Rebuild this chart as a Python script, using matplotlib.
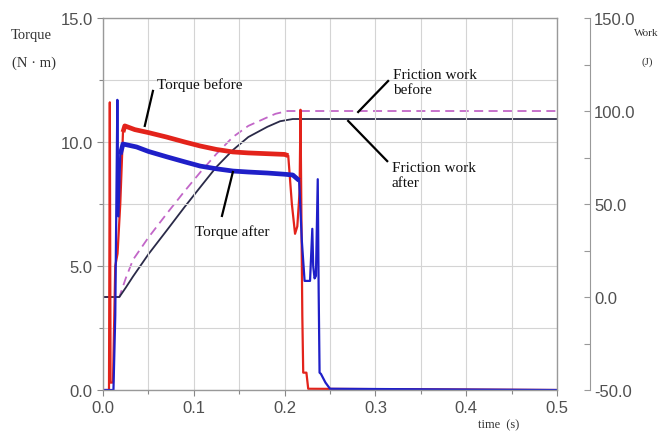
import matplotlib; matplotlib.use("Agg")
import matplotlib.pyplot as plt
import numpy as np
from matplotlib.ticker import MultipleLocator, FormatStrFormatter

RED = "#e3231b"; BLUE = "#1f1fc8"; PINK = "#c266c8"; DARK = "#2a2a48"; GRID = "#d4d4d4"; TXT = "#505050"
SERIF = ["Liberation Serif", "DejaVu Serif"]
plt.rcParams.update({"font.family": ["Liberation Sans", "DejaVu Sans"]})

# torque traces (N*m)
t_before = [0, 0.0066, 0.0075, 0.0083, 0.011, 0.0135, 0.016, 0.019, 0.022, 0.024, 0.035, 0.05, 0.07,
            0.09, 0.107, 0.125, 0.143, 0.16, 0.18, 0.2, 0.204, 0.208, 0.2115, 0.214, 0.2165, 0.2175,
            0.2185, 0.2195, 0.2205, 0.224, 0.226, 0.5]
torque_before = [0, 0, 11.6, 0.3, 0.3, 5.0, 5.5, 7.5, 10.4, 10.65, 10.5, 10.38, 10.2,
                 10.0, 9.84, 9.7, 9.6, 9.56, 9.53, 9.5, 9.45, 7.5, 6.3, 6.6, 8.0, 11.3,
                 7.0, 3.0, 0.7, 0.7, 0.05, 0.0]
t_after = [0, 0.0115, 0.0135, 0.0158, 0.017, 0.019, 0.022, 0.037, 0.05, 0.0705, 0.09, 0.107, 0.125,
           0.143, 0.16, 0.181, 0.2, 0.209, 0.216, 0.219, 0.222, 0.228, 0.2305, 0.2315, 0.233,
           0.2345, 0.2365, 0.2375, 0.2385, 0.24, 0.245, 0.25, 0.5]
torque_after = [0, 0, 3.0, 11.7, 7.0, 9.5, 9.92, 9.8, 9.62, 9.4, 9.2, 9.03, 8.92,
                8.83, 8.79, 8.75, 8.7, 8.67, 8.45, 6.0, 4.4, 4.4, 6.5, 5.0, 4.5,
                4.6, 8.5, 4.0, 0.7, 0.65, 0.3, 0.05, 0.0]

# friction work (J)
t_work_before = [0, 0.018, 0.025, 0.033, 0.05, 0.0705, 0.09, 0.107, 0.125, 0.143, 0.16, 0.181,
                 0.19, 0.203, 0.5]
work_before = [0, 0, 10, 20, 32, 45, 57, 67, 77, 86, 92, 96.6, 98.5, 100, 100]
t_work_after = [0, 0.018, 0.025, 0.033, 0.05, 0.0705, 0.09, 0.107, 0.125, 0.143, 0.16, 0.181,
                0.195, 0.209, 0.5]
work_after = [0, 0, 5, 11, 23, 36, 48.5, 59, 70, 79, 86, 91.5, 94.5, 95.7, 95.7]

fig = plt.figure(figsize=(6.62, 4.39), dpi=100)
ax = fig.add_axes([0.1556, 0.1093, 0.6858, 0.8474])
ax2 = ax.twinx()
ax.set_zorder(2); ax.patch.set_visible(False)

# friction work on right axis
ax2.plot(t_work_before, work_before, color=PINK, lw=1.3, ls=(0, (5, 3)))
ax2.plot(t_work_after, work_after, color=DARK, lw=1.3)

# torque on left axis (thin trace plus a thicker band where the signal is noisy)
tb = np.array(t_before); yb = np.array(torque_before)
ta = np.array(t_after); ya = np.array(torque_after)
ax.plot(tb, yb, color=RED, lw=1.6)
ax.plot(ta, ya, color=BLUE, lw=1.6)
mb = (tb >= 0.022) & (tb <= 0.204)
ma = (ta >= 0.019) & (ta <= 0.216)
ax.plot(tb[mb], yb[mb], color=RED, lw=3.4, solid_capstyle="butt")
ax.plot(ta[ma], ya[ma], color=BLUE, lw=3.4, solid_capstyle="butt")

ax.set_xlim(0, 0.5); ax.set_ylim(0, 15)
ax.xaxis.set_major_locator(MultipleLocator(0.1)); ax.xaxis.set_minor_locator(MultipleLocator(0.05))
ax.yaxis.set_major_locator(MultipleLocator(5)); ax.yaxis.set_minor_locator(MultipleLocator(2.5))
ax.xaxis.set_major_formatter(FormatStrFormatter("%.1f"))
ax.yaxis.set_major_formatter(FormatStrFormatter("%.1f"))
ax.grid(True, which="both", color=GRID, lw=0.8)
ax.tick_params(which="both", colors="#888888", labelcolor=TXT, labelsize=12, length=4, width=0.8)
ax.tick_params(which="minor", length=3)
for s in ax.spines.values():
    s.set_color("#999999"); s.set_linewidth(1.0)

ax2.set_ylim(-50, 150)
ax2.yaxis.set_major_locator(MultipleLocator(50)); ax2.yaxis.set_minor_locator(MultipleLocator(25))
ax2.yaxis.set_major_formatter(FormatStrFormatter("%.1f"))
for s in ["top", "left", "bottom"]:
    ax2.spines[s].set_visible(False)
ax2.spines["right"].set_position(("axes", 1.0727))
ax2.spines["right"].set_color("#999999")
ax2.tick_params(which="both", direction="in", colors="#999999", labelcolor=TXT, labelsize=12,
                length=4, width=0.8, pad=3)

# annotations
def note(text, xy_text, xy_line0, xy_line1, ha="left"):
    ax.text(*xy_text, text, ha=ha, va="center", fontsize=11, family=SERIF, color="#111111",
            linespacing=1.15)
    ax.plot([xy_line0[0], xy_line1[0]], [xy_line0[1], xy_line1[1]], color="black", lw=1.6)

note("Torque before", (0.059, 12.34), (0.055, 12.06), (0.046, 10.65))
note("Torque after", (0.142, 6.41), (0.131, 7.02), (0.143, 8.79), ha="center")
note("Friction work\nbefore", (0.319, 12.42), (0.314, 12.46), (0.281, 11.21))
note("Friction work\nafter", (0.318, 8.67), (0.313, 9.23), (0.270, 10.85))

fig.text(11 / 662, 1 - 36 / 439, "Torque", fontsize=10.5, family=SERIF, color="#333333", va="center")
fig.text(12 / 662, 1 - 63 / 439, "(N · m)", fontsize=10.5, family=SERIF, color="#333333", va="center")
fig.text(634 / 662, 1 - 34 / 439, "Work", fontsize=8, family=SERIF, color="#333333", va="center")
fig.text(642 / 662, 1 - 62 / 439, "(J)", fontsize=8, family=SERIF, color="#333333", va="center")
fig.text(478 / 662, 1 - 425 / 439, "time  (s)", fontsize=9, family=SERIF, color="#333333", va="center")

fig.savefig("out.png", dpi=100, facecolor="white")
